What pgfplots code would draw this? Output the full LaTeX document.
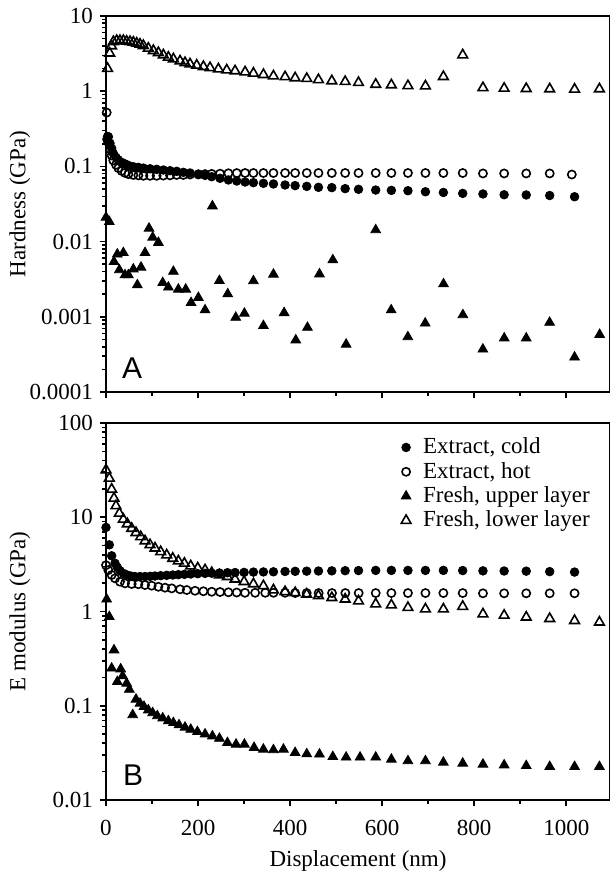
\documentclass[border=0pt]{standalone}
\usepackage{fontspec}
\setmainfont{Liberation Serif}
\setsansfont{Liberation Sans}
\usepackage{pgfplots}
\pgfplotsset{compat=1.18}

\pgfplotsset{
 every axis/.append style={
  width=252pt, scale only axis, xmin=0, xmax=1095, ymode=log,
  xtick={0,200,...,1000}, minor xtick={100,300,...,1100},
  tick align=outside, major tick length=3pt, minor tick length=1.8pt,
  xtick pos=bottom, ytick pos=left,
  axis line style={line width=0.9pt},
  tick style={line width=0.8pt, black},
  log ticks with fixed point,
  /pgf/number format/precision=4,
  /pgf/number format/1000 sep={},
  /pgf/number format/assume math mode=true,
  tick label style={font=\fontsize{11.5}{13}\selectfont},
  label style={font=\fontsize{11.5}{13}\selectfont},
  ylabel style={at={(axis description cs:-0.171,0.5)}, anchor=center},
  clip=false,
 },
}
\tikzset{
 cold/.style={only marks, mark=*, mark size=2.15pt, mark options={draw=black, fill=black}},
 hot/.style={only marks, mark=o, mark size=2.05pt, mark options={draw=black, line width=0.8pt, fill=white}},
 up/.style={only marks, mark=triangle*, mark size=2.8pt, mark options={draw=black, fill=black}},
 low/.style={only marks, mark=triangle, mark size=2.8pt, mark options={draw=black, line width=0.8pt, fill=white}},
}

\begin{document}
\begin{tikzpicture}
\begin{axis}[name=top, height=188pt, ymin=0.0001, ymax=10,
  xticklabels={}, ylabel={Hardness (GPa)}]
% Fresh, lower layer
\addplot[low] coordinates {(3.5,2.0)(8,3.2)(12,4.0)(16,4.55)(23.2,4.7)(30.4,4.7)(37.7,4.7)(44.9,4.6)(52.2,4.55)(59.4,4.47)(66.7,4.34)(73.9,4.2)(81.2,4.03)(92,3.72)(102.9,3.46)(113.8,3.25)(124.6,3.03)(135.5,2.82)(146.4,2.68)(160.9,2.52)(171.7,2.39)(182.6,2.30)(197.1,2.21)(211.6,2.12)(226,2.05)(244.2,1.97)(262.3,1.91)(280.4,1.86)(302.2,1.80)(320.3,1.73)(342,1.66)(363.8,1.59)(389.1,1.55)(410.9,1.50)(436.2,1.47)(461.6,1.42)(490.6,1.37)(519.6,1.34)(548.6,1.30)(586,1.23)(620,1.21)(656,1.18)(694,1.17)(733,1.56)(775,3.03)(819,1.11)(865,1.09)(913,1.08)(964,1.07)(1018,1.06)(1072,1.07)};
% Extract, hot
\addplot[hot] coordinates {(1.5,0.52)(5,0.21)(8.7,0.17)(12.3,0.14)(15.9,0.12)(21.7,0.105)(26.8,0.095)(34.1,0.087)(41.3,0.082)(48.6,0.079)(59.4,0.077)(70.3,0.076)(81.2,0.075)(95.7,0.075)(110.1,0.075)(124.6,0.0755)(139.1,0.076)(153.6,0.077)(168.1,0.077)(182.6,0.078)(200.7,0.078)(215.2,0.079)(229.7,0.0795)(247.8,0.08)(265.9,0.081)(284.1,0.0815)(302.2,0.0817)(320.3,0.0817)(342,0.0817)(363.8,0.0817)(389.1,0.0817)(410.9,0.0817)(436.2,0.0817)(461.6,0.0817)(490.6,0.0817)(519.6,0.0817)(548.6,0.0817)(586,0.0817)(620,0.0817)(656,0.0817)(694,0.0817)(733,0.0817)(775,0.0817)(819,0.0806)(865,0.0806)(913,0.0806)(964,0.0806)(1012,0.078)};
% Extract, cold
\addplot[cold] coordinates {(2,0.23)(3.5,0.25)(5.1,0.248)(8.7,0.203)(12.3,0.174)(15.9,0.149)(21.7,0.132)(26.8,0.122)(34.1,0.113)(41.3,0.108)(48.6,0.103)(59.4,0.099)(70.3,0.097)(81.2,0.095)(95.7,0.093)(110.1,0.0914)(124.6,0.0895)(139.1,0.0877)(153.6,0.086)(168.1,0.0834)(182.6,0.0817)(200.7,0.0792)(215.2,0.076)(229.7,0.073)(247.8,0.0695)(265.9,0.066)(284.1,0.064)(302.2,0.062)(320.3,0.0608)(342,0.0596)(363.8,0.0584)(389.1,0.0566)(410.9,0.0555)(436.2,0.0543)(461.6,0.0527)(490.6,0.0522)(519.6,0.0506)(548.6,0.0496)(586,0.0485)(620,0.048)(656,0.0475)(694,0.046)(733,0.045)(775,0.0438)(819,0.043)(865,0.042)(913,0.0417)(964,0.041)(1018,0.0395)};
% Fresh, upper layer
\addplot[up] coordinates {(0,0.021)(7.2,0.0184)(17.4,0.0054)(24.6,0.0068)(29,0.0042)(37.7,0.0071)(41.3,0.0036)(48.6,0.0036)(59.4,0.0043)(68.1,0.00265)(76,0.00455)(84.8,0.0071)(93.5,0.015)(101.4,0.0114)(113.8,0.0097)(123.2,0.00284)(135.5,0.00247)(146.4,0.0040)(157.2,0.00232)(173.2,0.00232)(184.8,0.00154)(200.7,0.0018)(215.2,0.00123)(231.2,0.0297)(246.4,0.00302)(264.5,0.00201)(281.9,0.00098)(300.7,0.00111)(320.3,0.0030)(342,0.00076)(363.8,0.00367)(387,0.00113)(412.3,0.00049)(437.7,0.00072)(463.8,0.0037)(492.8,0.0057)(521.7,0.00043)(586,0.0143)(619.6,0.00123)(655.8,0.00054)(693.5,0.00082)(733.3,0.00273)(775.4,0.00106)(818.8,0.00037)(865.2,0.00052)(913,0.00052)(963.8,0.00084)(1018,0.00029)(1072.5,0.00058)};
\node[font=\fontsize{15}{18}\sffamily] at (rel axis cs:0.052,0.064) {A};
\end{axis}

\begin{axis}[at={(top.south west)}, yshift=-15.5pt, anchor=north west,
  height=188.5pt, ymin=0.01, ymax=100,
  xticklabel shift=3.5pt,
  xlabel={Displacement (nm)}, ylabel={E modulus (GPa)},
  xlabel style={at={(axis description cs:0.5,-0.162)}, anchor=center},
  legend cell align=left,
  legend style={draw=none, fill=none, at={(0.585,0.972)}, anchor=north west,
    font=\fontsize{11.5}{13}\selectfont, row sep=-1.3pt, inner sep=0pt},
  legend image code/.code={\draw[#1] plot coordinates {(0cm,0cm)}; \path (6.3pt,0pt);},
  ]
\addplot[cold] coordinates {(0,7.8)(7.2,5.1)(12.3,3.9)(19.6,3.25)(24.6,2.94)(30.4,2.71)(37.7,2.54)(44.9,2.45)(53.6,2.38)(62.7,2.35)(73.9,2.35)(84.8,2.35)(95.7,2.36)(106.5,2.38)(118.8,2.40)(131.9,2.42)(145,2.44)(157.2,2.46)(170.3,2.48)(184.1,2.5)(199.3,2.52)(215.2,2.54)(229.7,2.55)(246.4,2.56)(263.8,2.58)(280.4,2.59)(300,2.6)(320.3,2.62)(342,2.63)(363.8,2.64)(389,2.66)(411,2.67)(436,2.68)(461.6,2.69)(490.6,2.7)(519.6,2.71)(548.6,2.72)(586,2.73)(620,2.73)(656,2.73)(694,2.73)(733,2.73)(775,2.72)(819,2.70)(865,2.69)(913,2.68)(964,2.65)(1018,2.62)};
\addlegendentry{Extract, cold}
\addplot[hot] coordinates {(0,3.1)(5,2.75)(12.3,2.44)(19.6,2.25)(30.4,2.07)(41.3,1.99)(55.8,1.96)(70.3,1.95)(84.8,1.91)(99.3,1.88)(113.8,1.83)(128.3,1.79)(142.8,1.76)(160.9,1.72)(175.4,1.69)(193.5,1.66)(211.6,1.64)(229.7,1.62)(247.8,1.61)(265.9,1.60)(284,1.59)(302,1.58)(324,1.58)(346,1.58)(364,1.58)(389,1.58)(411,1.57)(436,1.57)(462,1.57)(491,1.57)(520,1.57)(549,1.57)(586,1.57)(620,1.57)(656,1.57)(694,1.57)(733,1.57)(775,1.57)(819,1.56)(865,1.56)(913,1.56)(964,1.56)(1018,1.56)};
\addlegendentry{Extract, hot}
\addplot[up] coordinates {(1.4,1.35)(7.2,0.88)(17.4,0.39)(12.3,0.25)(24.6,0.18)(31.9,0.245)(36.2,0.207)(44.9,0.173)(50.7,0.149)(58,0.080)(65.2,0.117)(73.9,0.106)(82.6,0.098)(92,0.090)(101.4,0.084)(111.6,0.078)(123.2,0.074)(135.5,0.069)(146.4,0.066)(158.7,0.0625)(171.7,0.059)(184.1,0.056)(198.6,0.053)(215.2,0.050)(231.2,0.0477)(246.4,0.045)(263.8,0.0405)(282.6,0.039)(300.7,0.039)(321.7,0.036)(342,0.0345)(363.8,0.034)(385.5,0.0345)(410.9,0.0318)(436.2,0.0308)(463.8,0.0306)(492.8,0.0288)(521.7,0.0284)(552,0.0284)(586,0.0284)(620,0.027)(656,0.026)(694,0.026)(733,0.0251)(775,0.0245)(819,0.0239)(865,0.0235)(913,0.0231)(964,0.0226)(1018,0.0226)(1072,0.0226)};
\addlegendentry{Fresh, upper layer}
\addplot[low] coordinates {(0,31.7)(7.2,25.9)(12.3,19.8)(17.4,15.9)(21.7,13.2)(29,11.0)(37.7,9.5)(46.4,8.5)(55.8,7.6)(65.2,6.86)(75.4,6.2)(84.8,5.6)(95.7,5.1)(106.5,4.7)(118.8,4.3)(131.9,3.97)(145,3.66)(157.2,3.43)(170.3,3.24)(184.1,3.04)(199.3,2.89)(215.2,2.76)(229.7,2.58)(246.4,2.44)(263.8,2.34)(280.4,2.20)(300,2.07)(320.3,1.96)(342,1.87)(363.8,1.69)(389,1.62)(411,1.58)(436,1.52)(461.6,1.47)(490.6,1.40)(519.6,1.35)(548.6,1.29)(586,1.20)(620,1.17)(656,1.10)(694,1.06)(733,1.06)(775,1.13)(819,0.94)(865,0.91)(913,0.87)(964,0.84)(1018,0.80)(1072,0.77)};
\addlegendentry{Fresh, lower layer}
\node[font=\fontsize{15}{18}\sffamily] at (rel axis cs:0.054,0.066) {B};
\end{axis}
\pgfresetboundingbox
\path[use as bounding box] (top.north west) ++(-53pt,8pt) rectangle ++(305pt,-437pt);
\end{tikzpicture}
\end{document}
